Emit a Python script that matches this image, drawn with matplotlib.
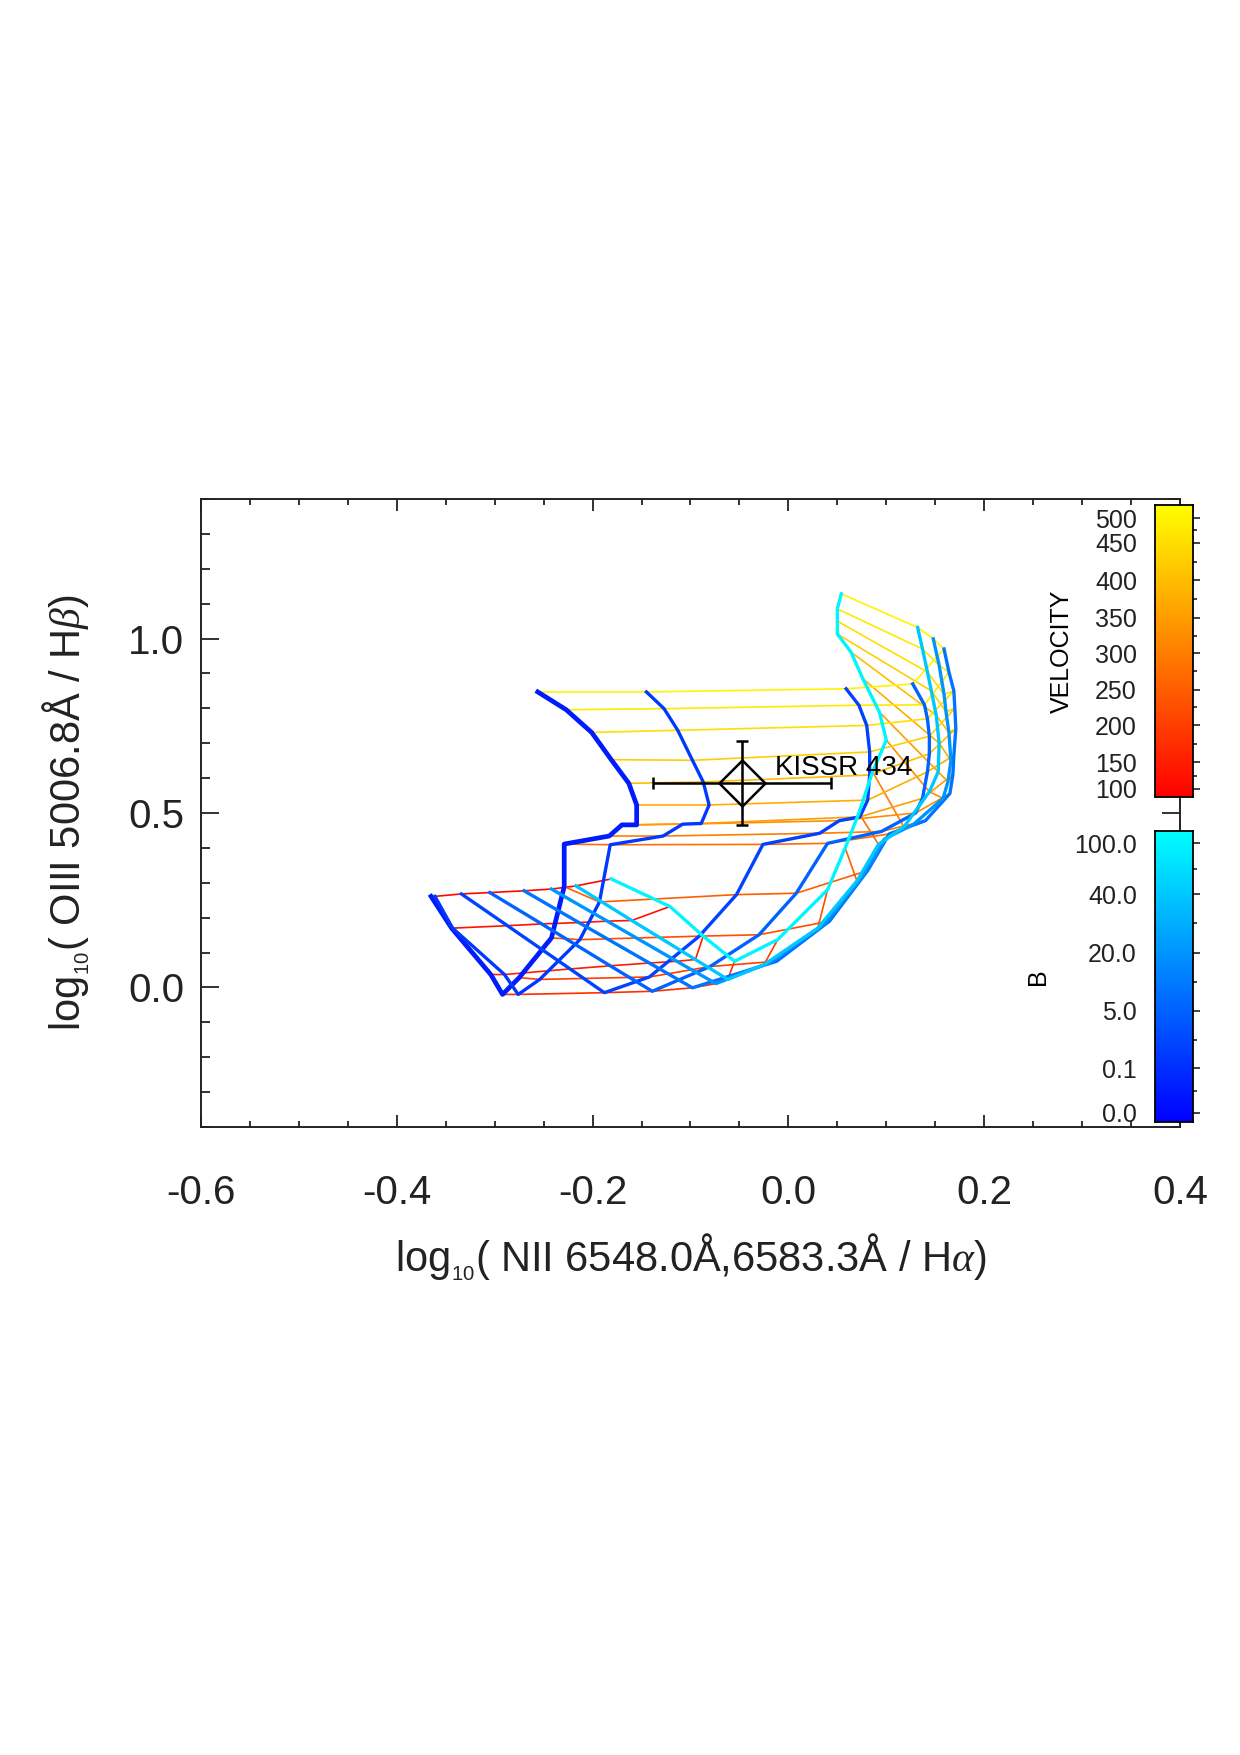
import matplotlib

matplotlib.use('Agg')

import matplotlib.pyplot as plt
import numpy as np
from matplotlib.colors import LinearSegmentedColormap
from matplotlib.ticker import MultipleLocator

plt.rcParams['font.family'] = ['Liberation Sans', 'DejaVu Sans']
plt.rcParams['axes.unicode_minus'] = False
plt.rcParams['mathtext.fontset'] = 'custom'
plt.rcParams['mathtext.rm'] = 'Liberation Sans'
plt.rcParams['mathtext.it'] = 'Liberation Serif:italic'

# shock grid: one row per magnetic field, one column per shock velocity
velocity = [100, 125, 150, 175, 200, 225, 250, 275, 300, 325, 350, 375, 400, 425, 450, 475, 500]
b_field = [0.05, 1.0, 2.0, 5.0, 10.0, 20.0, 40.0, 100.0]

nii_ha = [
    [-0.365, -0.344, -0.304, -0.292, -0.275, -0.242, -0.229, -0.229, -0.183, -0.170, -0.155, -0.155, -0.163, -0.181, -0.201, -0.227, -0.256],
    [-0.361, -0.343, -0.290, -0.276, -0.254, -0.213, -0.193, -0.182, -0.128, -0.108, -0.089, -0.081, -0.087, -0.098, -0.113, -0.127, -0.145],
    [-0.334, -0.287, -0.223, -0.188, -0.142, -0.091, -0.053, -0.026, 0.032, 0.052, 0.073, 0.081, 0.083, 0.083, 0.080, 0.072, 0.059],
    [-0.305, -0.252, -0.182, -0.139, -0.080, -0.030, 0.008, 0.040, 0.095, 0.130, 0.137, 0.142, 0.144, 0.144, 0.142, 0.139, 0.127],
    [-0.270, -0.214, -0.142, -0.098, -0.012, 0.042, 0.081, 0.103, 0.140, 0.165, 0.168, 0.169, 0.171, 0.170, 0.169, 0.164, 0.159],
    [-0.242, -0.185, -0.114, -0.074, -0.020, 0.036, 0.076, 0.098, 0.128, 0.158, 0.163, 0.166, 0.164, 0.161, 0.159, 0.154, 0.148],
    [-0.217, -0.160, -0.095, -0.062, -0.025, 0.030, 0.070, 0.092, 0.118, 0.144, 0.153, 0.154, 0.151, 0.146, 0.142, 0.137, 0.132],
    [-0.181, -0.121, -0.087, -0.055, -0.011, 0.040, 0.058, 0.072, 0.086, 0.100, 0.093, 0.076, 0.064, 0.050, 0.050, 0.050, 0.054],
]
oiii_hb = [
    [0.261, 0.170, 0.037, -0.020, 0.028, 0.142, 0.289, 0.411, 0.434, 0.466, 0.466, 0.523, 0.585, 0.653, 0.731, 0.796, 0.847],
    [0.261, 0.170, 0.037, -0.020, 0.023, 0.137, 0.245, 0.409, 0.434, 0.468, 0.470, 0.523, 0.589, 0.651, 0.737, 0.799, 0.847],
    [0.268, 0.177, 0.053, -0.015, 0.030, 0.147, 0.266, 0.410, 0.442, 0.478, 0.489, 0.537, 0.609, 0.675, 0.751, 0.809, 0.856],
    [0.272, 0.182, 0.062, -0.011, 0.060, 0.151, 0.270, 0.413, 0.447, 0.500, 0.542, 0.618, 0.670, 0.720, 0.770, 0.810, 0.870],
    [0.277, 0.186, 0.070, -0.001, 0.075, 0.190, 0.335, 0.440, 0.478, 0.556, 0.610, 0.665, 0.742, 0.800, 0.850, 0.904, 0.970],
    [0.282, 0.190, 0.075, 0.011, 0.070, 0.180, 0.320, 0.425, 0.468, 0.542, 0.590, 0.650, 0.730, 0.790, 0.840, 0.923, 0.999],
    [0.291, 0.192, 0.080, 0.023, 0.065, 0.170, 0.305, 0.410, 0.460, 0.561, 0.618, 0.700, 0.780, 0.850, 0.904, 0.970, 1.032],
    [0.311, 0.232, 0.147, 0.075, 0.137, 0.280, 0.400, 0.500, 0.618, 0.709, 0.789, 0.885, 0.961, 1.013, 1.050, 1.085, 1.128],
]

# observed galaxy
obj_name = 'KISSR 434'
obj_x, obj_y = -0.047, 0.585
obj_xerr, obj_yerr = 0.091, 0.12

# colour bar labels (position along the bar, 0 = bottom)
vel_tick_vals = [100, 150, 200, 250, 300, 350, 400, 450, 500]
vel_tick_pos = [0.028, 0.119, 0.246, 0.368, 0.492, 0.614, 0.742, 0.871, 0.955]
b_tick_vals = [0.0, 0.1, 5.0, 20.0, 40.0, 100.0]
b_tick_pos = [0.032, 0.184, 0.383, 0.582, 0.783, 0.958]

vel_cmap = plt.get_cmap('autumn')
b_cmap = LinearSegmentedColormap.from_list('bcyan', [(0, 0, 1), (0, 1, 1)])

x = np.array(nii_ha)
y = np.array(oiii_hb)

W, H = 1240, 1755
fig = plt.figure(figsize=(W / 100, H / 100), dpi=100)
ax = fig.add_axes([201 / W, 1 - 1127 / H, 979 / W, 628 / H])

for j, v in enumerate(velocity):
    c = vel_cmap(np.interp(v, vel_tick_vals, vel_tick_pos))
    ax.plot(x[:, j], y[:, j], color=c, lw=1.2, zorder=2)

for i, b in enumerate(b_field):
    c = b_cmap(np.interp(b, b_tick_vals, b_tick_pos))
    ax.plot(x[i], y[i], color=c, lw=3.4 if i == 0 else 2.4, zorder=3)

ax.errorbar(obj_x, obj_y, xerr=obj_xerr, yerr=obj_yerr, fmt='D', ms=23, mfc='none',
            mec='k', mew=1.8, color='k', elinewidth=1.8, capsize=4, capthick=1.8, zorder=5)
ax.text(obj_x + 0.033, obj_y + 0.024, obj_name, fontsize=20, ha='left', va='baseline', zorder=6)

ax.set_xlim(-0.6, 0.4)
ax.set_ylim(-0.4, 1.4)
ax.xaxis.set_major_locator(MultipleLocator(0.2))
ax.xaxis.set_minor_locator(MultipleLocator(0.05))
ax.yaxis.set_major_locator(MultipleLocator(0.5))
ax.yaxis.set_minor_locator(MultipleLocator(0.1))
ax.xaxis.set_major_formatter(lambda v, p: '%.1f' % v)
ax.yaxis.set_major_formatter(lambda v, p: '%.1f' % v)
ax.tick_params(which='both', direction='in', top=True, right=True, width=1.3, colors='#222222')
ax.tick_params(axis='x', which='major', length=8.5, pad=34, labelsize=29)
ax.tick_params(axis='x', which='minor', length=4.3)
ax.tick_params(axis='y', which='major', length=13, pad=12, labelsize=29)
ax.tick_params(axis='y', which='minor', length=6.5)
for s in ax.spines.values():
    s.set_linewidth(1.4)
    s.set_color('#222222')

ax.set_xlabel(r'log$_{{}_{10}}$( NII 6548.0Å,6583.3Å / H$\alpha$)', fontsize=30, labelpad=14, color='#222222')
ax.set_ylabel(r'log$_{{}_{10}}$( OIII 5006.8Å / H$\beta$)', fontsize=30, labelpad=26, color='#222222')

grad = np.linspace(0, 1, 256)[:, None]


def make_bar(top, bottom, cmap, pos, labels):
    cax = fig.add_axes([1155 / W, 1 - bottom / H, 38 / W, (bottom - top) / H])
    cax.imshow(grad, aspect='auto', cmap=cmap, origin='lower', extent=[0, 1, 0, 1])
    cax.set_xticks([])
    cax.set_yticks(pos)
    cax.set_yticklabels(labels)
    mids = [(a + b) / 2 for a, b in zip(pos[:-1], pos[1:])]
    cax.set_yticks(mids, minor=True)
    cax.yaxis.set_ticks_position('right')
    cax.tick_params(axis='y', which='both', direction='out', left=False, right=True,
                    labelleft=True, labelright=False, labelsize=18, pad=8, width=1.2,
                    colors='#222222')
    cax.tick_params(axis='y', which='major', length=5)
    cax.tick_params(axis='y', which='minor', length=3)
    for s in cax.spines.values():
        s.set_linewidth(1.3)
    return cax


make_bar(505, 797, vel_cmap, vel_tick_pos, [str(v) for v in vel_tick_vals])
make_bar(831, 1122, b_cmap, b_tick_pos, ['%.1f' % b for b in b_tick_vals])

fig.text(1062 / W, 1 - 651 / H, 'VELOCITY', rotation=90, ha='center', va='center', fontsize=18)
fig.text(1038 / W, 1 - 977 / H, 'B', rotation=90, ha='center', va='center', fontsize=18)

fig.savefig('out.png', dpi=100)
